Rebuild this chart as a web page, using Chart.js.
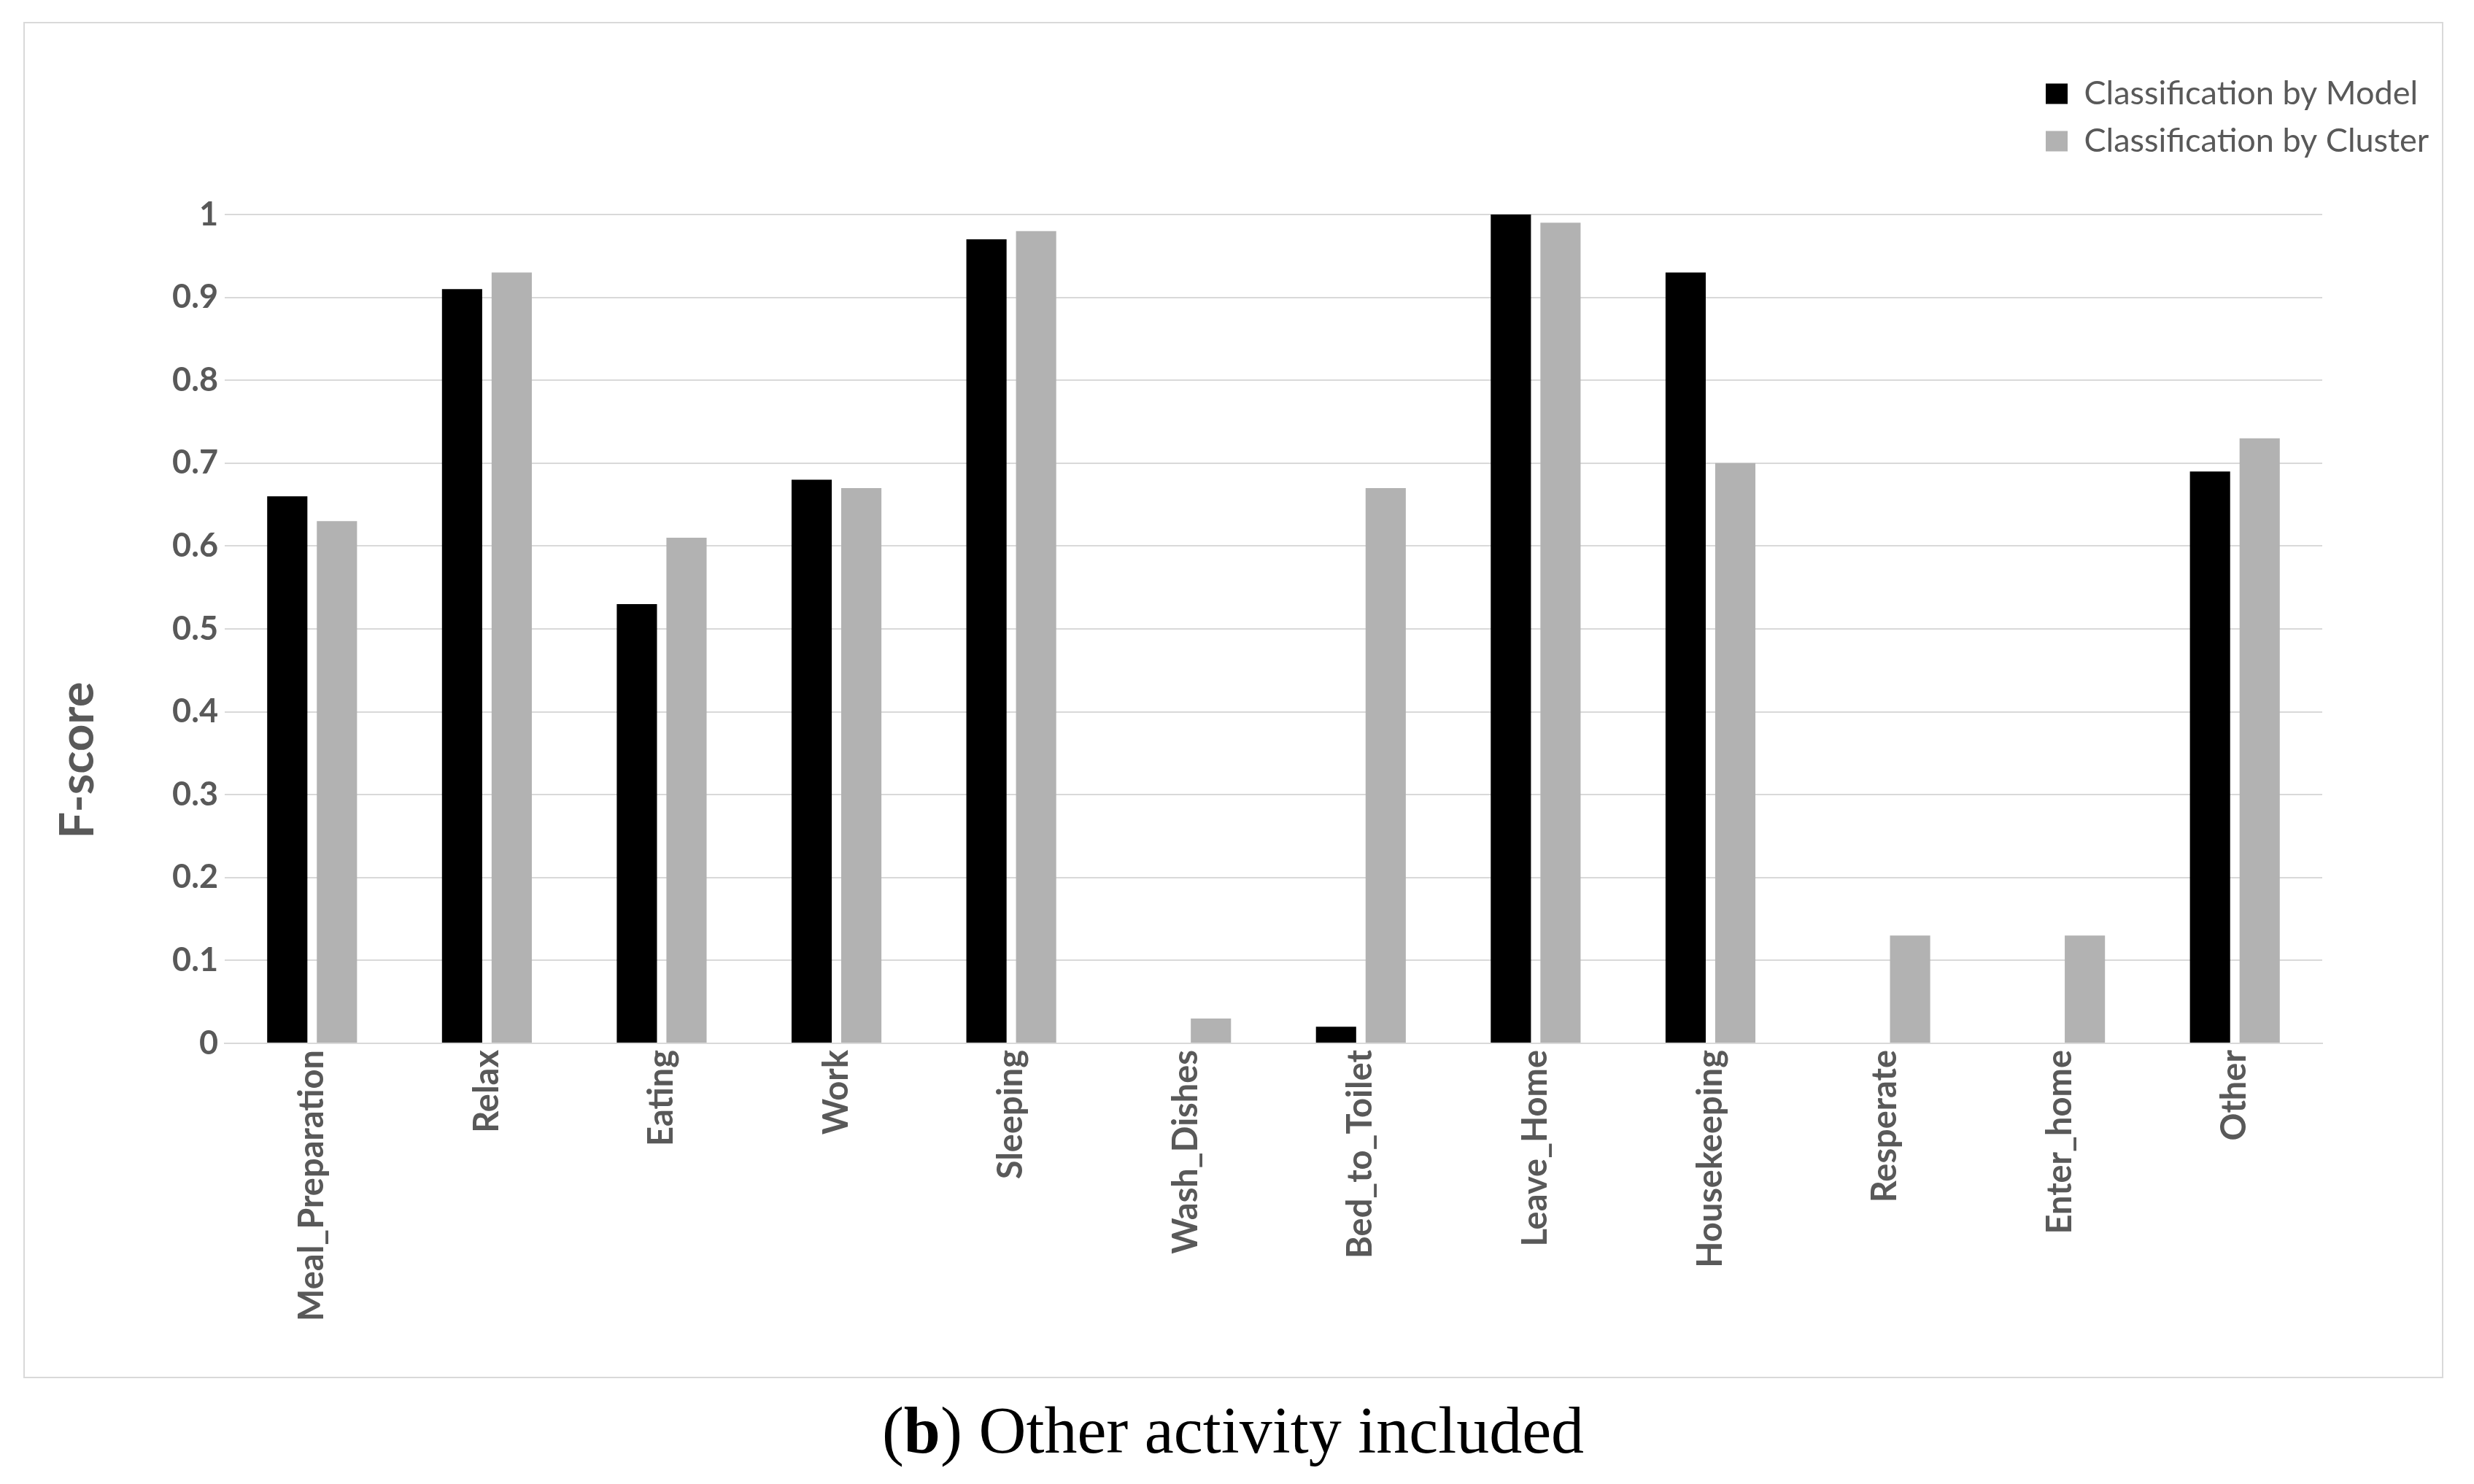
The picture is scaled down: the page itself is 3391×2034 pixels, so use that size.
<!DOCTYPE html>
<html><head><meta charset="utf-8">
<script src="https://cdn.jsdelivr.net/npm/chart.js@4.4.1/dist/chart.umd.min.js"></script>
<style>
html,body{margin:0;padding:0;background:#fff;width:3391px;height:2034px;overflow:hidden;}
#frame{position:absolute;left:32px;top:30px;width:3313px;height:1855px;border:2px solid #d9d9d9;box-sizing:content-box;}
#c{position:absolute;left:0;top:0;width:3391px;height:2034px;}
#caption{position:absolute;left:33px;width:3314px;top:1905px;text-align:center;font-family:"Liberation Serif","Times New Roman",serif;font-size:90px;line-height:112px;color:#000;white-space:nowrap;}
</style></head><body>
<div id="frame"></div>
<canvas id="c" width="3391" height="2034"></canvas>
<div id="caption">(<b>b</b>) Other activity included</div>
<script>
const categories = ['Meal_Preparation','Relax','Eating','Work','Sleeping','Wash_Dishes','Bed_to_Toilet','Leave_Home','Housekeeping','Resperate','Enter_home','Other'];
const seriesNames = ['Classification by Model','Classification by Cluster'];
const modelScores = [0.66, 0.91, 0.53, 0.68, 0.97, 0, 0.02, 1.00, 0.93, 0, 0, 0.69];
const clusterScores = [0.63, 0.93, 0.61, 0.67, 0.98, 0.03, 0.67, 0.99, 0.70, 0.13, 0.13, 0.73];
const yTickLabels = ['0','0.1','0.2','0.3','0.4','0.5','0.6','0.7','0.8','0.9','1'];
const axisTitle = 'F-score';

const TXT = '#595959';
const GRID = '#d9d9d9';

// keep the legend's layout height (it pushes the plot down) but draw it at the top right
const legendPlacer = {
  id: 'legendPlacer',
  afterLayout(chart) {
    const lg = chart.legend;
    if (!lg) return;
    lg.left = 2784; lg.top = 86; lg.right = 3391; lg.bottom = 260;
    lg.width = lg.right - lg.left; lg.height = lg.bottom - lg.top;
  }
};

function build() {
  new Chart(document.getElementById('c'), {
    type: 'bar',
    data: {
      labels: categories,
      datasets: [
        { label: seriesNames[0], data: modelScores, backgroundColor: '#000000', borderWidth: 0,
          categoryPercentage: 0.568, barPercentage: 0.81 },
        { label: seriesNames[1], data: clusterScores, backgroundColor: '#b2b2b2', borderWidth: 0,
          categoryPercentage: 0.568, barPercentage: 0.81 }
      ]
    },
    options: {
      responsive: false,
      devicePixelRatio: 1,
      animation: false,
      layout: { padding: { left: 0, top: 219, right: 208, bottom: 169 } },
      plugins: {
        tooltip: { enabled: false },
        title: {
          display: true, position: 'left', text: axisTitle, color: TXT,
          font: { family: 'Lato', weight: 'bold', size: 65, lineHeight: 1.2 },
          padding: { top: 68, bottom: 0 }
        },
        legend: {
          position: 'top', align: 'start',
          labels: {
            boxWidth: 30, boxHeight: 28, padding: 20, color: TXT,
            font: { family: 'Lato', size: 45 }
          }
        }
      },
      scales: {
        x: {
          grid: { display: false, drawTicks: false },
          border: { display: true, color: GRID, width: 2 },
          ticks: {
            autoSkip: false, minRotation: 90, maxRotation: 90, padding: 9, color: TXT,
            font: { family: 'Lato', weight: 'bold', size: 47 }
          },
          afterFit(s) { s.height = 2034 - 169 - 1430; }
        },
        y: {
          min: 0, max: 1,
          grid: { color: GRID, lineWidth: 2, drawTicks: false },
          border: { display: false },
          ticks: {
            stepSize: 0.1, padding: 9, color: TXT,
            font: { family: 'Lato', weight: 'bold', size: 45 },
            callback: (v, i) => yTickLabels[i]
          },
          afterFit(s) { s.width = 162; }
        }
      }
    },
    plugins: [legendPlacer]
  });
}

const fontsReady = (document.fonts && document.fonts.load)
  ? Promise.all([document.fonts.load('bold 47px Lato'), document.fonts.load('45px Lato')]).catch(() => {})
  : Promise.resolve();
fontsReady.then(build);
</script>
</body></html>
